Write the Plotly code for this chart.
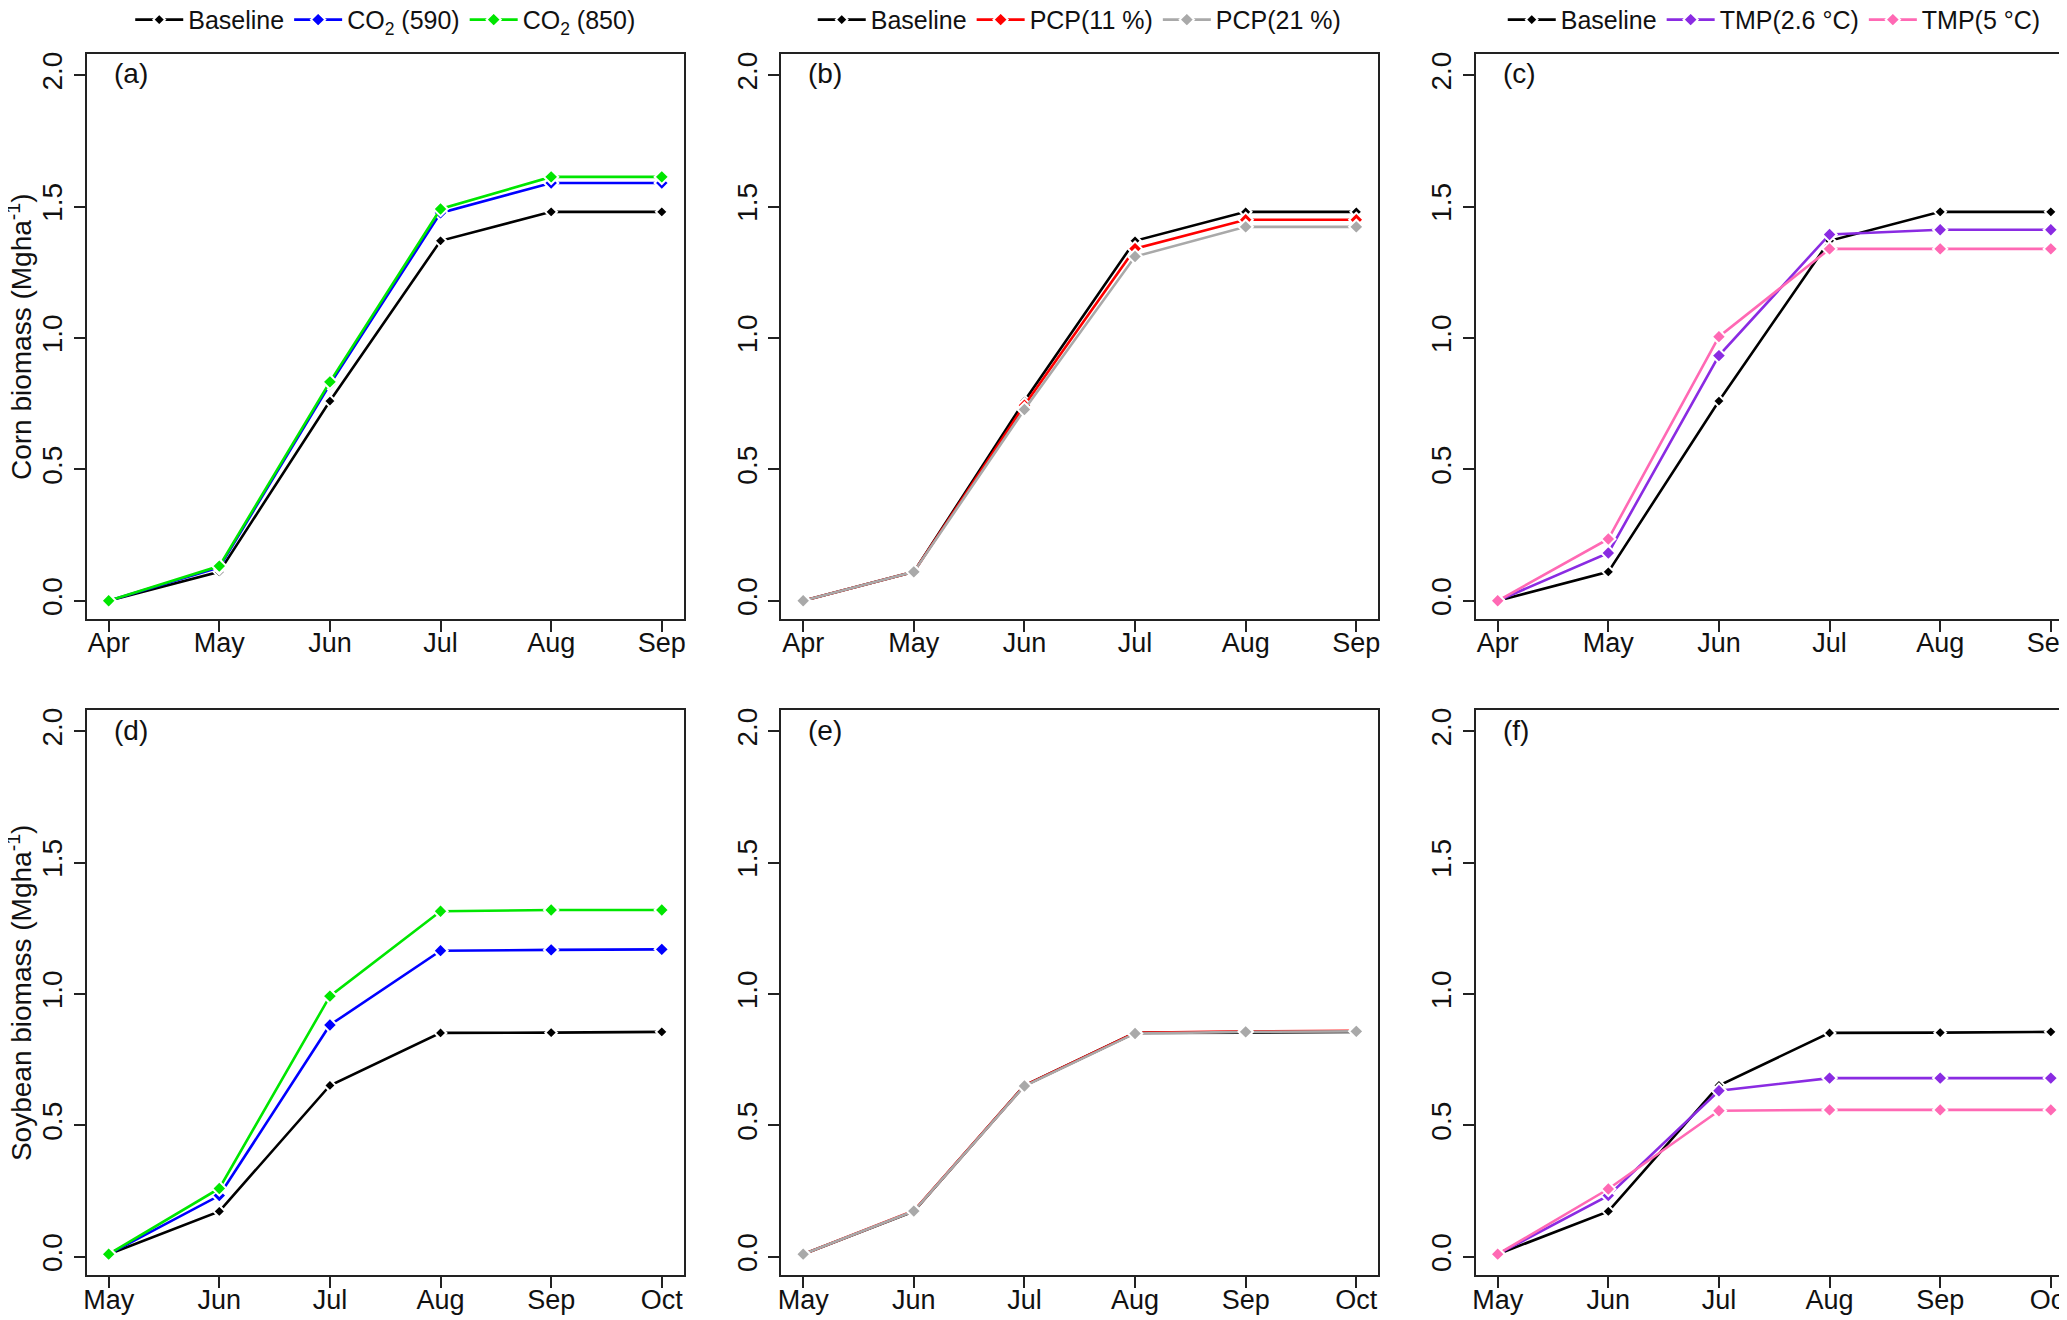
import plotly.graph_objects as go

# ---------------- data ----------------
corn_months = ["Apr", "May", "Jun", "Jul", "Aug", "Sep"]
soy_months = ["May", "Jun", "Jul", "Aug", "Sep", "Oct"]

corn_baseline = [0.00, 0.11, 0.76, 1.37, 1.48, 1.48]
corn_co2_590 = [0.00, 0.127, 0.824, 1.476, 1.59, 1.59]
corn_co2_850 = [0.00, 0.132, 0.833, 1.491, 1.613, 1.613]
corn_pcp_11 = [0.00, 0.11, 0.744, 1.34, 1.45, 1.45]
corn_pcp_21 = [0.00, 0.11, 0.728, 1.31, 1.423, 1.423]
corn_tmp_26 = [0.00, 0.182, 0.933, 1.394, 1.412, 1.412]
corn_tmp_5 = [0.00, 0.235, 1.005, 1.339, 1.339, 1.339]

soy_baseline = [0.01, 0.173, 0.652, 0.852, 0.853, 0.856]
soy_co2_590 = [0.01, 0.233, 0.882, 1.165, 1.168, 1.170]
soy_co2_850 = [0.01, 0.260, 0.992, 1.315, 1.320, 1.320]
soy_pcp_11 = [0.01, 0.175, 0.652, 0.852, 0.858, 0.860]
soy_pcp_21 = [0.01, 0.174, 0.650, 0.850, 0.856, 0.858]
soy_tmp_26 = [0.01, 0.233, 0.632, 0.680, 0.680, 0.680]
soy_tmp_5 = [0.01, 0.258, 0.556, 0.559, 0.559, 0.559]

y_ticks = [0.0, 0.5, 1.0, 1.5, 2.0]
y_ticklabels = ["0.0", "0.5", "1.0", "1.5", "2.0"]
panel_labels = ["(a)", "(b)", "(c)", "(d)", "(e)", "(f)"]
y_titles = ["Corn biomass (Mgha<sup>-1</sup>)", "Soybean biomass (Mgha<sup>-1</sup>)"]

# ---------------- style ----------------
FONT = "Liberation Sans, Arial, sans-serif"
C_BASE = "#000000"
C_BLUE = "#0000FF"
C_GREEN = "#00E600"
C_RED = "#FF0000"
C_GREY = "#A9A9A9"
C_PURPLE = "#8A2BE2"
C_PINK = "#FF69B4"

x_domains = [[0.038, 0.327], [0.374, 0.663], [0.710, 0.999]]
y_domains = [[0.537, 0.965], [0.040, 0.468]]

fig = go.Figure()

panels = [
    (0, 0, corn_months, [("Baseline", corn_baseline, C_BASE),
                         ("CO<sub>2</sub> (590)", corn_co2_590, C_BLUE),
                         ("CO<sub>2</sub> (850)", corn_co2_850, C_GREEN)]),
    (0, 1, corn_months, [("Baseline", corn_baseline, C_BASE),
                         ("PCP(11 %)", corn_pcp_11, C_RED),
                         ("PCP(21 %)", corn_pcp_21, C_GREY)]),
    (0, 2, corn_months, [("Baseline", corn_baseline, C_BASE),
                         ("TMP(2.6 °C)", corn_tmp_26, C_PURPLE),
                         ("TMP(5 °C)", corn_tmp_5, C_PINK)]),
    (1, 0, soy_months, [("Baseline", soy_baseline, C_BASE),
                        ("CO<sub>2</sub> (590)", soy_co2_590, C_BLUE),
                        ("CO<sub>2</sub> (850)", soy_co2_850, C_GREEN)]),
    (1, 1, soy_months, [("Baseline", soy_baseline, C_BASE),
                        ("PCP(11 %)", soy_pcp_11, C_RED),
                        ("PCP(21 %)", soy_pcp_21, C_GREY)]),
    (1, 2, soy_months, [("Baseline", soy_baseline, C_BASE),
                        ("TMP(2.6 °C)", soy_tmp_26, C_PURPLE),
                        ("TMP(5 °C)", soy_tmp_5, C_PINK)]),
]

legend_names = ["legend", "legend2", "legend3"]

for i, (row, col, months, series) in enumerate(panels):
    idx = i + 1
    xa = "x" if idx == 1 else f"x{idx}"
    ya = "y" if idx == 1 else f"y{idx}"
    for name, vals, color in series:
        is_base = (name == "Baseline")
        fig.add_trace(go.Scatter(
            x=months, y=vals, name=name, mode="lines+markers",
            xaxis=xa, yaxis=ya,
            line=dict(color=color, width=2.6),
            marker=dict(symbol="diamond", size=9 if is_base else 11, color=color,
                        line=dict(color="white", width=2)),
            legend=legend_names[col],
            showlegend=(row == 0),
        ))
    axis_common = dict(showline=True, linecolor="#222222", linewidth=1.8, mirror=True,
                       ticks="outside", ticklen=11, tickwidth=1.6, tickcolor="#222222",
                       showgrid=False, zeroline=False,
                       tickfont=dict(family=FONT, size=27, color="#111111"))
    xkey = "xaxis" if idx == 1 else f"xaxis{idx}"
    ykey = "yaxis" if idx == 1 else f"yaxis{idx}"
    fig.update_layout({
        xkey: dict(axis_common, domain=x_domains[col], anchor=ya, type="category",
                   categoryorder="array", categoryarray=months, range=[-0.2, 5.2],
                   ticklabelstandoff=-12),
        ykey: dict(axis_common, domain=y_domains[row], anchor=xa, range=[-0.07, 2.08],
                   tickvals=y_ticks, ticktext=y_ticklabels, tickangle=-90,
                   tickfont=dict(family=FONT, size=28, color="#111111")),
    })
    if col == 0:
        fig.add_annotation(text=y_titles[row], xref="paper", yref=f"{ya} domain",
                           x=0.0055, y=0.5, xanchor="center", yanchor="middle",
                           textangle=-90, showarrow=False,
                           font=dict(family=FONT, size=28, color="#111111"))
    fig.add_annotation(text=panel_labels[i], xref=f"{xa} domain", yref=f"{ya} domain",
                       x=0.042, y=0.965, xanchor="left", yanchor="middle", showarrow=False,
                       font=dict(family=FONT, size=28, color="#111111"))

legend_common = dict(orientation="h", xanchor="center", yanchor="middle", y=0.991,
                     font=dict(family=FONT, size=25, color="#111111"),
                     bgcolor="rgba(0,0,0,0)", itemwidth=48, tracegroupgap=0)
fig.update_layout(
    width=2067, height=1320,
    margin=dict(l=0, r=0, t=0, b=0, autoexpand=False),
    paper_bgcolor="white", plot_bgcolor="white",
    legend=dict(legend_common, x=sum(x_domains[0]) / 2),
    legend2=dict(legend_common, x=sum(x_domains[1]) / 2),
    legend3=dict(legend_common, x=sum(x_domains[2]) / 2),
)

fig.write_html("out.html")
